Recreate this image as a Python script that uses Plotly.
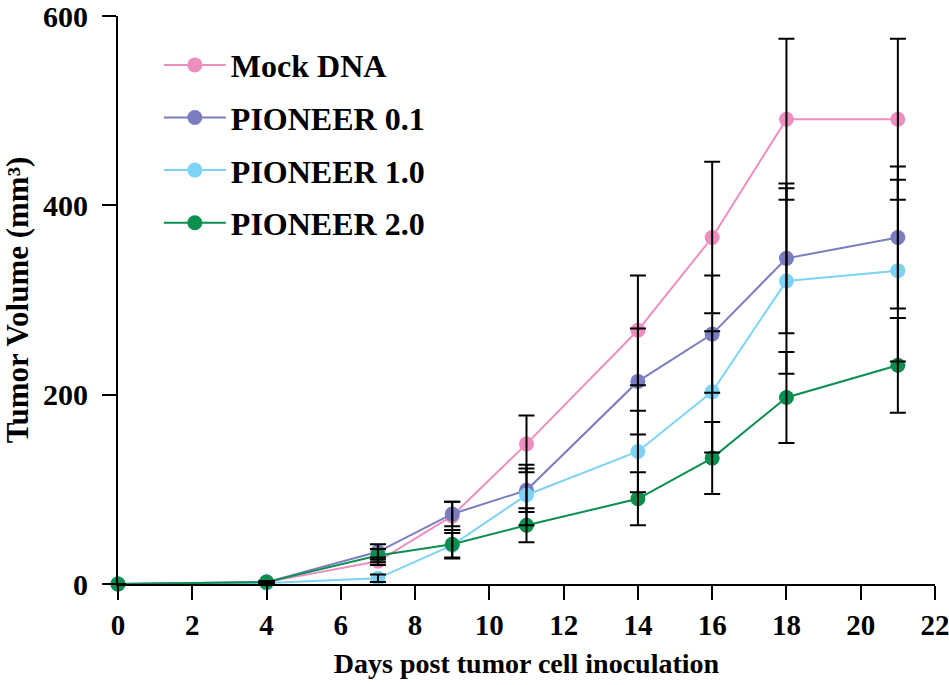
import plotly.graph_objects as go

days = [0, 4, 7, 9, 11, 14, 16, 18, 21]
series_names = ["Mock DNA", "PIONEER 0.1", "PIONEER 1.0", "PIONEER 2.0"]
mock = [0, 2, 24, 72, 148, 268, 366, 491, 491]
mock_err = [0, 1, 4, 15, 30, 58, 80, 85, 85]
p01 = [0, 2, 34, 74, 99, 214, 264, 344, 366]
p01_err = [0, 1, 8, 13, 23, 56, 62, 79, 75]
p10 = [0, 1, 6, 41, 94, 140, 203, 320, 331]
p10_err = [0, 1, 4, 13, 32, 43, 64, 98, 96]
p20 = [0, 2, 30, 42, 62, 90, 133, 197, 231]
p20_err = [0, 1, 7, 15, 18, 28, 38, 48, 50]
colors = ["#EE8EC0", "#7A7DBF", "#7DD3F5", "#0A8F4F"]

x_ticks = list(range(0, 23, 2))
y_ticks = [0, 200, 400, 600]

values = [mock, p01, p10, p20]
errors = [mock_err, p01_err, p10_err, p20_err]

FONT = "Liberation Serif, Times New Roman, serif"

fig = go.Figure()
for name, vals, col in zip(series_names, values, colors):
    fig.add_trace(go.Scatter(
        x=days, y=vals, name=name, mode="lines+markers",
        line=dict(color=col, width=2),
        marker=dict(color=col, size=15),
        cliponaxis=False, legendgroup=name,
    ))
for name, vals, errs in zip(series_names, values, errors):
    fig.add_trace(go.Scatter(
        x=days, y=vals, mode="markers", showlegend=False,
        marker=dict(size=1, opacity=0),
        error_y=dict(type="data", array=errs, visible=True,
                     color="black", thickness=2, width=8),
        cliponaxis=False, hoverinfo="skip",
    ))

fig.update_layout(
    width=949, height=685,
    margin=dict(l=118, r=14, t=16, b=101),
    plot_bgcolor="white", paper_bgcolor="white",
    font=dict(family=FONT, color="black", size=29, weight="bold"),
    showlegend=True,
    legend=dict(x=0.050, y=0.962, xanchor="left", yanchor="top",
                font=dict(family=FONT, size=32, weight="bold"),
                itemwidth=62, tracegroupgap=8, traceorder="grouped",
                bgcolor="rgba(0,0,0,0)"),
    xaxis=dict(range=[0, 22], tickvals=x_ticks, ticktext=[str(v) for v in x_ticks],
               automargin=False, ticklabeloverflow="allow",
               showgrid=False, zeroline=False, showline=True, linecolor="black",
               linewidth=2, ticks="outside", ticklen=14, tickwidth=2, tickcolor="black",
               tickfont=dict(size=29, family=FONT, weight="bold"),
               title=dict(text="Days post tumor cell inoculation",
                          font=dict(size=28, family=FONT, weight="bold"), standoff=14)),
    yaxis=dict(range=[0, 600], tickvals=y_ticks, ticktext=[str(v) for v in y_ticks],
               automargin=False, ticklabelstandoff=8, ticklabeloverflow="allow",
               showgrid=False, zeroline=False, showline=True, linecolor="black",
               linewidth=2, ticks="outside", ticklen=14, tickwidth=2, tickcolor="black",
               tickfont=dict(size=30, family=FONT, weight="bold"),
               title=dict(text="Tumor Volume (mm³)",
                          font=dict(size=31, family=FONT, weight="bold"), standoff=13)),
)

fig.write_html("out.html", config={"displayModeBar": False},
               post_script="document.body.style.margin='0px';")
